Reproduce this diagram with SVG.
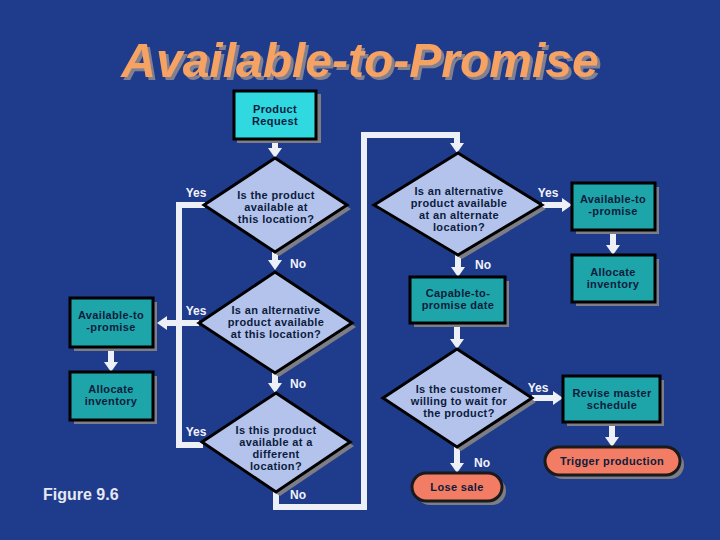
<svg xmlns="http://www.w3.org/2000/svg" width="720" height="540" viewBox="0 0 720 540">
<style>
.bg{fill:#1f3b8b}
.title{font-family:"Liberation Sans",Arial,sans-serif;font-weight:bold;font-style:italic;font-size:48px;text-anchor:middle;fill:#f5a262;filter:url(#tsh)}
.t{font-family:"Liberation Sans",Arial,sans-serif;font-weight:bold;font-size:11px;letter-spacing:0.35px;text-anchor:middle;fill:#0c1c3c}
.lbl{font-family:"Liberation Sans",Arial,sans-serif;font-weight:bold;font-size:12px;text-anchor:middle;fill:#f2f2fa}
.fig{font-family:"Liberation Sans",Arial,sans-serif;font-weight:bold;font-size:16px;fill:#e6e8f2}
.sh{fill:#7d7d85}
.box{fill:#1ea5aa;stroke:#000;stroke-width:3}
.req{fill:#30d8e0;stroke:#000;stroke-width:3}
.dia{fill:#b3c3ec;stroke:#000;stroke-width:3}
.term{fill:#f27c64;stroke:#1a1a1a;stroke-width:3}
.c{fill:none;stroke:#eef0f8;stroke-width:6}
.ca{fill:none;stroke:#eef0f8;stroke-width:6;marker-end:url(#ah)}
</style>
<defs>
<marker id="ah" markerUnits="userSpaceOnUse" markerWidth="10" markerHeight="14" viewBox="0 0 10 14" refX="0" refY="7" orient="auto">
<path d="M0,0 L10,7 L0,14 z" fill="#eef0f8"/>
</marker>
<filter id="tsh" x="-5%" y="-20%" width="110%" height="140%">
<feDropShadow dx="3" dy="3" stdDeviation="0" flood-color="#808090" flood-opacity="1"/>
</filter>
</defs>
<rect class="bg" x="0" y="0" width="720" height="540"/>
<g id="title">
<text class="title" x="360" y="77">Available-to-Promise</text>
</g>
<g id="connectors">
<line class="ca" x1="275" y1="140" x2="275" y2="148"/>
<polyline class="c" points="205,205 179,205 179,445 203,445"/>
<line class="ca" x1="199" y1="323" x2="167" y2="323"/>
<line class="ca" x1="275" y1="252" x2="275" y2="260"/>
<line class="ca" x1="275" y1="373" x2="275" y2="383"/>
<polyline class="ca" points="276,492 276,507 364,507 364,135 457,135 457,143"/>
<line class="ca" x1="542" y1="205" x2="562" y2="205"/>
<line class="ca" x1="613" y1="230" x2="613" y2="245"/>
<line class="ca" x1="458" y1="255" x2="458" y2="267"/>
<line class="ca" x1="457" y1="323" x2="457" y2="339"/>
<line class="ca" x1="532" y1="398" x2="553" y2="398"/>
<line class="ca" x1="612" y1="422" x2="612" y2="437"/>
<line class="ca" x1="457" y1="447" x2="457" y2="463"/>
<line class="ca" x1="111" y1="347" x2="111" y2="362"/>
</g>
<g id="labels">
<text class="lbl" x="196" y="197">Yes</text>
<text class="lbl" x="298" y="268">No</text>
<text class="lbl" x="196" y="315">Yes</text>
<text class="lbl" x="298" y="388">No</text>
<text class="lbl" x="196" y="436">Yes</text>
<text class="lbl" x="298" y="499">No</text>
<text class="lbl" x="548" y="197">Yes</text>
<text class="lbl" x="483" y="269">No</text>
<text class="lbl" x="538" y="392">Yes</text>
<text class="lbl" x="482" y="467">No</text>
</g>
<g id="product-request">
<rect class="sh" x="237" y="94" width="84" height="49"/>
<rect class="req" x="234" y="91" width="82" height="48"/>
<text class="t" x="275" y="113">Product</text>
<text class="t" x="275" y="125">Request</text>
</g>
<g id="d1">
<polygon class="sh" points="279,162 351,209 279,256 208,209"/>
<polygon class="dia" points="275,158 347,205 275,252 204,205"/>
<text class="t" x="276" y="199">Is the product</text>
<text class="t" x="276" y="211">available at</text>
<text class="t" x="276" y="223">this location?</text>
</g>
<g id="d2">
<polygon class="sh" points="279,276 356,327 279,377 203,327"/>
<polygon class="dia" points="275,272 352,323 275,373 199,323"/>
<text class="t" x="276" y="314">Is an alternative</text>
<text class="t" x="276" y="326">product available</text>
<text class="t" x="276" y="338">at this location?</text>
</g>
<g id="d3">
<polygon class="sh" points="280,397 354,446 280,496 206,446"/>
<polygon class="dia" points="276,393 350,442 276,492 202,442"/>
<text class="t" x="276" y="434">Is this product</text>
<text class="t" x="276" y="446">available at a</text>
<text class="t" x="276" y="458">different</text>
<text class="t" x="276" y="470">location?</text>
</g>
<g id="atp-left">
<rect class="sh" x="74" y="302" width="83" height="49"/>
<rect class="box" x="70" y="298" width="83" height="49"/>
<text class="t" x="111" y="319">Available-to</text>
<text class="t" x="111" y="331">-promise</text>
</g>
<g id="alloc-left">
<rect class="sh" x="74" y="376" width="83" height="48"/>
<rect class="box" x="70" y="372" width="83" height="48"/>
<text class="t" x="111" y="393">Allocate</text>
<text class="t" x="111" y="405">inventory</text>
</g>
<g id="d4">
<polygon class="sh" points="462,157 546,209 462,259 378,209"/>
<polygon class="dia" points="458,153 542,205 458,255 374,205"/>
<text class="t" x="459" y="195">Is an alternative</text>
<text class="t" x="459" y="207">product available</text>
<text class="t" x="459" y="219">at an alternate</text>
<text class="t" x="459" y="231">location?</text>
</g>
<g id="atp-right">
<rect class="sh" x="576" y="187" width="83" height="47"/>
<rect class="box" x="572" y="183" width="83" height="47"/>
<text class="t" x="613" y="203">Available-to</text>
<text class="t" x="613" y="215">-promise</text>
</g>
<g id="alloc-right">
<rect class="sh" x="576" y="259" width="83" height="47"/>
<rect class="box" x="572" y="255" width="83" height="47"/>
<text class="t" x="613" y="276">Allocate</text>
<text class="t" x="613" y="288">inventory</text>
</g>
<g id="ctp">
<rect class="sh" x="414" y="281" width="95" height="46"/>
<rect class="box" x="410" y="277" width="95" height="46"/>
<text class="t" x="458" y="297">Capable-to-</text>
<text class="t" x="458" y="309">promise date</text>
</g>
<g id="d5">
<polygon class="sh" points="461,353 536,402 461,451 387,402"/>
<polygon class="dia" points="457,349 532,398 457,447 383,398"/>
<text class="t" x="459" y="393">Is the customer</text>
<text class="t" x="459" y="405">willing to wait for</text>
<text class="t" x="459" y="417">the product?</text>
</g>
<g id="revise">
<rect class="sh" x="567" y="380" width="97" height="46"/>
<rect class="box" x="563" y="376" width="97" height="46"/>
<text class="t" x="612" y="397">Revise master</text>
<text class="t" x="612" y="409">schedule</text>
</g>
<g id="trigger">
<rect class="sh" x="549" y="451" width="135" height="28" rx="14"/>
<rect class="term" x="545" y="447" width="135" height="28" rx="14"/>
<text class="t" x="612" y="465">Trigger production</text>
</g>
<g id="lose">
<rect class="sh" x="416" y="477" width="90" height="28" rx="14"/>
<rect class="term" x="412" y="473" width="90" height="28" rx="14"/>
<text class="t" x="457" y="491">Lose sale</text>
</g>
<g id="figure">
<text class="fig" x="43" y="500">Figure 9.6</text>
</g>
</svg>
